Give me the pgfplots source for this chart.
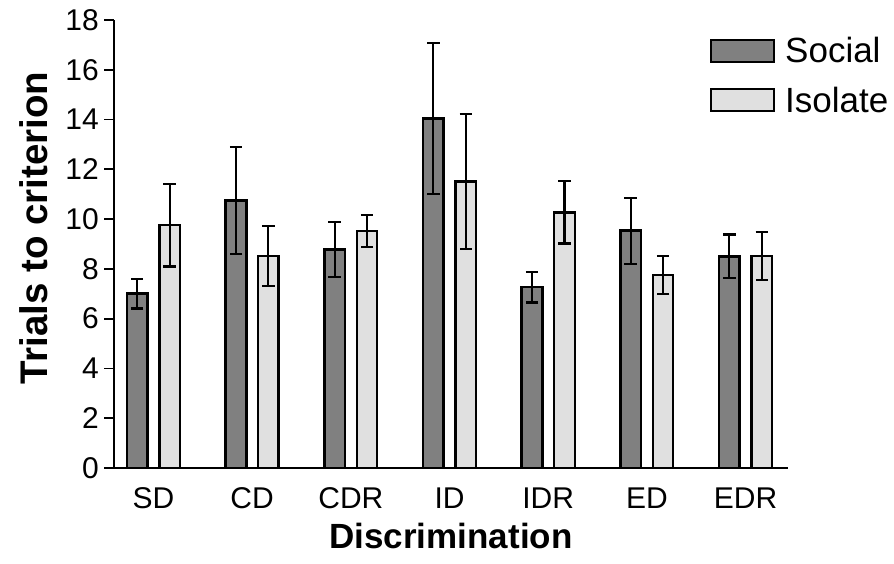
\documentclass[border=0pt]{standalone}
\usepackage{pgfplots}
\pgfplotsset{compat=1.18}
\usepackage{fontspec}
\setmainfont{Liberation Sans}
\definecolor{socialc}{HTML}{808080}
\definecolor{isolc}{HTML}{E0E0E0}
\begin{document}
\begin{tikzpicture}[x=1pt,y=1pt]
\useasboundingbox (0,0) rectangle (894,563);
\begin{axis}[
  at={(114pt,95pt)}, anchor=south west,
  scale only axis, width=674pt, height=448pt,
  xmin=-0.40, xmax=6.43, ymin=0, ymax=18,
  axis x line=bottom, axis y line=left,
  axis line style={-, line width=1.7pt, black},
  ytick={0,2,...,18},
  xtick={0,...,6},
  xticklabels={SD,CD,CDR,ID,IDR,ED,EDR},
  x tick style={draw=none},
  y tick style={line width=1.7pt, black},
  tick align=outside, major tick length=10pt,
  /pgf/number format/assume math mode=true,
  yticklabel style={font=\fontsize{30}{36}\selectfont, inner sep=0pt, xshift=-5pt},
  xticklabel style={font=\fontsize{30}{36}\selectfont, inner sep=0pt, anchor=base, yshift=-30pt},
  xlabel={\textbf{Discrimination}},
  ylabel={\textbf{Trials to criterion}},
  xlabel style={font=\fontsize{35}{42}\selectfont, at={(axis description cs:0.5,0)}, anchor=base, yshift=-80pt},
  ylabel style={font=\fontsize{38.5}{46}\selectfont, at={(axis description cs:-0.0994,0.536)}, anchor=base},
  ybar=11.9pt, bar width=20.5pt,
  legend style={draw=none, fill=none, at={(596pt,433pt)}, anchor=north west, font=\fontsize{35}{42}\selectfont, row sep=19pt, column sep=8pt, inner sep=0pt},
  legend cell align=left,
]
\addplot+[ybar, fill=socialc, draw=black, line width=2.7pt,
  legend image code/.code={\draw[fill=socialc, draw=black, line width=2pt] (0pt,-11pt) rectangle (63pt,11pt);},
  error bars/.cd, y dir=both, y explicit,
  error bar style={line width=2.2pt, black},
  error mark options={rotate=90, mark size=6.2pt, line width=2.2pt, black}]
  coordinates {
  (0,7.00) +- (0,0.59)
  (1,10.76) +- (0,2.15)
  (2,8.77) +- (0,1.11)
  (3,14.03) +- (0,3.03)
  (4,7.27) +- (0,0.62)
  (5,9.53) +- (0,1.32)
  (6,8.51) +- (0,0.87)
  };
\addlegendentry{Social}
\addplot+[ybar, fill=isolc, draw=black, line width=2.3pt,
  legend image code/.code={\draw[fill=isolc, draw=black, line width=2pt] (0pt,-11pt) rectangle (63pt,11pt);},
  error bars/.cd, y dir=both, y explicit,
  error bar style={line width=2.2pt, black},
  error mark options={rotate=90, mark size=6.2pt, line width=2.2pt, black}]
  coordinates {
  (0,9.76) +- (0,1.66)
  (1,8.51) +- (0,1.20)
  (2,9.52) +- (0,0.64)
  (3,11.51) +- (0,2.72)
  (4,10.27) +- (0,1.25)
  (5,7.75) +- (0,0.76)
  (6,8.51) +- (0,0.97)
  };
\addlegendentry{Isolate}
\end{axis}
\end{tikzpicture}
\end{document}
